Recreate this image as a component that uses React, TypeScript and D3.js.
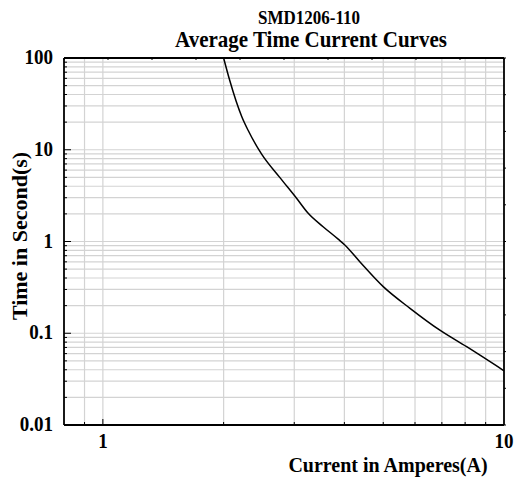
import * as d3 from 'd3';

// curve (current in A, time in s)
const currentA = [2.0, 2.07, 2.22, 2.3, 2.49, 2.76, 3.04, 3.25, 3.54, 3.86, 4.01, 4.37, 5.0, 5.83, 6.92, 8.07, 10];
const timeS = [100, 57.5, 22.9, 16.4, 8.9, 5.0, 2.96, 2.03, 1.45, 1.06, 0.916, 0.602, 0.322, 0.187, 0.108, 0.0713, 0.039];

const xGrid = [0.9, 1, 2, 3, 4, 5, 6, 7, 8, 9];
const xLabels = [1, 10];
const yDecades = [0.01, 0.1, 1, 10];
const yLabels = ['100', '10', '1', '0.1', '0.01'];

const W = 516;
const H = 477;
const margin = { left: 64, right: 12, top: 58, bottom: 52 };
const font = '"Liberation Serif", "Times New Roman", serif';

const App = () => {
    const x = d3.scaleLog().domain([0.8, 10]).range([margin.left, W - margin.right]);
    const y = d3.scaleLog().domain([0.01, 100]).range([H - margin.bottom, margin.top]);
    const x0 = margin.left, x1 = W - margin.right;
    const y0 = H - margin.bottom, y1 = margin.top;

    const yGrid: number[] = [];
    yDecades.forEach(d => d3.range(1, 10).forEach(m => yGrid.push(d * m)));
    yGrid.push(100);

    const points: [number, number][] = currentA.map((c, i) => [x(c), y(timeS[i])]);
    const line = d3.line().curve(d3.curveMonotoneX)(points) || '';

    // evenly spaced ticks on the top and right frame
    const even = d3.range(11);
    const tx = d3.scaleLinear().domain([0, 10]).range([x0, x1]);
    const ty = d3.scaleLinear().domain([0, 10]).range([y0, y1]);

    const stretch = 'scale(1,1.1)';

    return (
        <svg width={W} height={H} style={{ position: 'absolute', left: 0, top: 0, background: '#fff' }}
            fontFamily={font} fontWeight="bold">
            <rect width={W} height={H} fill="#fff" />
            <g stroke="#d3d3d3" strokeWidth={1.2}>
                {xGrid.map(v => (
                    <line key={'gx' + v} x1={x(v)} x2={x(v)} y1={y0} y2={y1} />
                ))}
                {yGrid.map(v => (
                    <line key={'gy' + v} x1={x0} x2={x1} y1={y(v)} y2={y(v)} />
                ))}
            </g>
            <g stroke="#000" strokeWidth={1}>
                {yGrid.map(v => {
                    const major = yLabels.includes(String(v));
                    return <line key={'ty' + v} x1={x0} x2={x0 + (major ? 7 : 3)} y1={y(v)} y2={y(v)} />;
                })}
                {xGrid.map(v => (
                    <line key={'tx' + v} x1={x(v)} x2={x(v)} y1={y0} y2={y0 - (v === 1 ? 6 : 3)} />
                ))}
                {even.map(i => (
                    <line key={'tt' + i} x1={tx(i)} x2={tx(i)} y1={y1} y2={y1 + 2} />
                ))}
                {even.map(i => (
                    <line key={'tr' + i} x1={x1} x2={x1 + 2} y1={ty(i)} y2={ty(i)} />
                ))}
            </g>
            <path d={line} fill="none" stroke="#000" strokeWidth={1.5} />
            <g stroke="#000" strokeWidth={1.8} fill="none">
                <line x1={x0} x2={x1} y1={y1} y2={y1} />
                <line x1={x0} x2={x1} y1={y0} y2={y0} />
                <line x1={x0} x2={x0} y1={y0} y2={y1} />
                <line x1={x1} x2={x1} y1={y0} y2={y1} />
            </g>
            {yLabels.map(t => (
                <text key={'ly' + t} transform={`translate(53,${y(+t) + 6}) ${stretch}`}
                    textAnchor="end" fontSize={19}>{t}</text>
            ))}
            {xLabels.map(v => (
                <text key={'lx' + v} transform={`translate(${x(v)},448) ${stretch}`}
                    textAnchor="middle" fontSize={19}>{v}</text>
            ))}
            <text transform="translate(309,24) scale(1,1.05)" textAnchor="middle" fontSize={17}>SMD1206-110</text>
            <text transform={`translate(311,47) ${stretch}`} textAnchor="middle" fontSize={21}>Average Time Current Curves</text>
            <text transform={`translate(388,472) ${stretch}`} textAnchor="middle" fontSize={20}>Current in Amperes(A)</text>
            <text transform="translate(27,236) rotate(-90) scale(1.1,1)" textAnchor="middle" fontSize={20}>Time in Second(s)</text>
        </svg>
    );
};

export default App;
